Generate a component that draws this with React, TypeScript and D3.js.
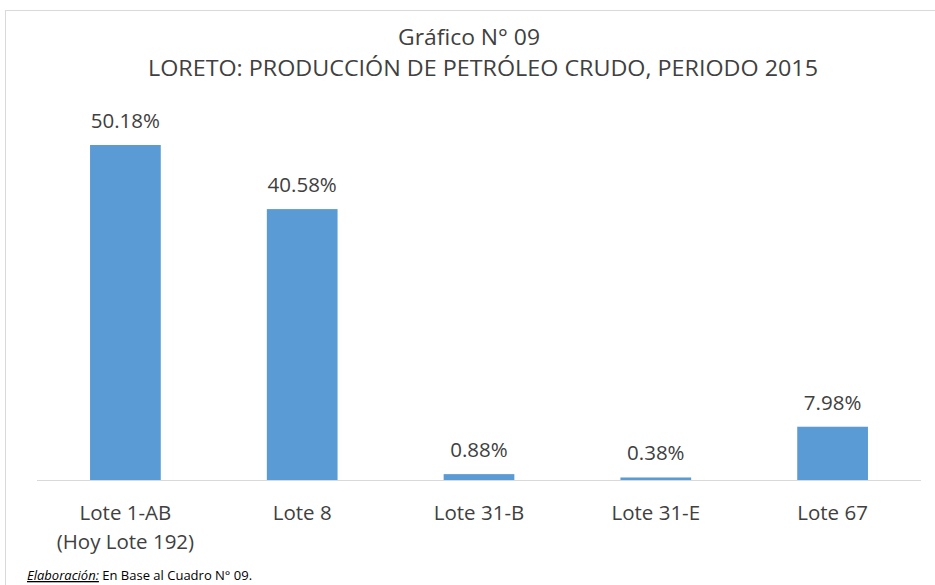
import React from "react";
import * as d3 from "d3";

const categories = ["Lote 1-AB|(Hoy Lote 192)", "Lote 8", "Lote 31-B", "Lote 31-E", "Lote 67"];
const values = [50.18, 40.58, 0.88, 0.38, 7.98];
const valueLabels = ["50.18%", "40.58%", "0.88%", "0.38%", "7.98%"];
const titleLines = ["Gráfico N° 09", "LORETO: PRODUCCIÓN DE PETRÓLEO CRUDO, PERIODO 2015"];

const W = 935, H = 585;
const FONT = "'Open Sans', 'Liberation Sans', sans-serif";
const TXT = "#404040";

export default function App() {
  const x = d3.scaleBand<string>().domain(categories).range([37, 921]).paddingInner(0.6).paddingOuter(0.3);
  const y = d3.scaleLinear().domain([0, 50.18]).range([480, 145]);
  return (
    <svg width={W} height={H} style={{ position: "absolute", left: 0, top: 0, background: "#fff" }} fontFamily={FONT}>
      <rect x={5.5} y={10.5} width={W} height={H} fill="#fff" stroke="#d9d9d9" strokeWidth={1} />
      <text x={469} y={45} textAnchor="middle" fontSize={22} fill={TXT} textLength={142} lengthAdjust="spacingAndGlyphs">{titleLines[0]}</text>
      <text x={483} y={76} textAnchor="middle" fontSize={22} fill={TXT} textLength={670} lengthAdjust="spacingAndGlyphs">{titleLines[1]}</text>
      {categories.map((c, i) => (
        <g key={c}>
          <rect x={x(c)} y={y(values[i])} width={x.bandwidth()} height={480 - y(values[i])} fill="#5b9bd5" />
          <text x={(x(c) as number) + x.bandwidth() / 2} y={y(values[i]) - 17} textAnchor="middle" fontSize={20.5} fill={TXT}>{valueLabels[i]}</text>
          {c.split("|").map((line, j) => (
            <text key={j} x={(x(c) as number) + x.bandwidth() / 2} y={520 + j * 29} textAnchor="middle" fontSize={20.5} fill={TXT}>{line}</text>
          ))}
        </g>
      ))}
      <line x1={37} x2={921} y1={480.5} y2={480.5} stroke="#d9d9d9" strokeWidth={1} />
      <text x={27} y={580} fontSize={13} fill="#000">
        <tspan fontStyle="italic" textDecoration="underline">Elaboración:</tspan>
        <tspan> En Base al Cuadro N° 09.</tspan>
      </text>
    </svg>
  );
}
